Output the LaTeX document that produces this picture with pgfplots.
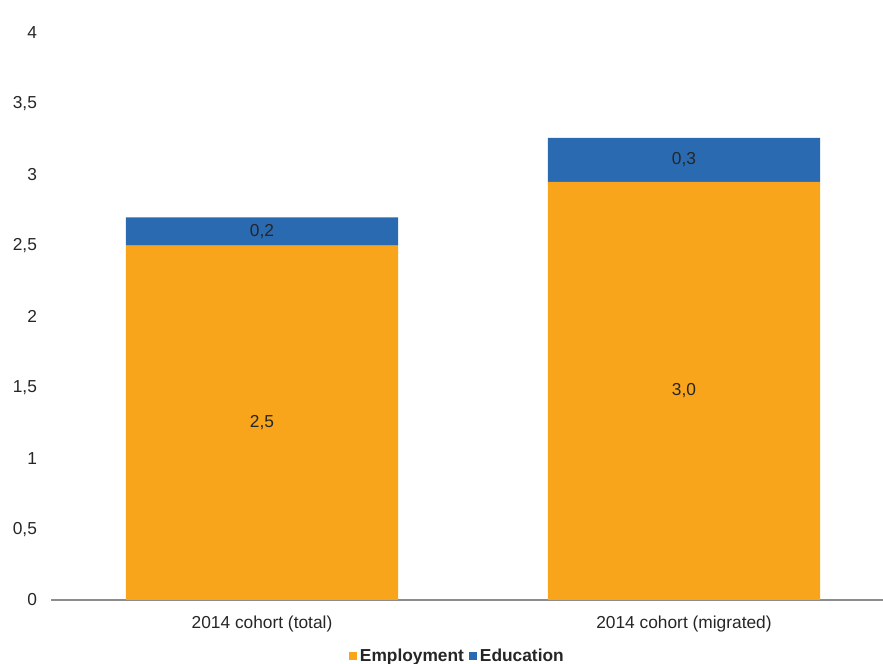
\documentclass[border=0pt]{standalone}
\usepackage{fontspec}
\setmainfont{Liberation Sans}
\usepackage{pgfplots}
\usepackage{pgfplotstable}
\pgfplotsset{compat=1.18}
\definecolor{emp}{HTML}{F9A51B}
\definecolor{edu}{HTML}{2A6AB1}
\definecolor{txt}{HTML}{262626}
\pgfplotstableread{
x emp edu emplab edulab
0 2.5 0.2 2,5 0,2
1 2.95 0.31 3,0 0,3
}\data
\begin{document}
\begin{tikzpicture}
\useasboundingbox (-38.25pt,-48pt) rectangle (624pt,450pt);
\begin{axis}[
  at={(0,0)}, anchor=south west,
  scale only axis,
  width=624pt, height=425.25pt,
  xmin=-0.5, xmax=1.4716,
  ymin=0, ymax=4,
  ybar stacked,
  bar width=0.645,
  axis lines*=left,
  x axis line style={draw=black!45, line width=0.8pt},
  y axis line style={draw=none},
  xtick={0,1},
  xticklabels={2014 cohort (total),2014 cohort (migrated)},
  xtick style={draw=none},
  extra x ticks={-0.5,0.5},
  extra x tick labels={},
  extra x tick style={tick style={draw=black!45, line width=0.8pt}, major tick length=5pt, tick align=outside},
  ytick={0,0.5,...,4},
  ytick style={draw=none},
  yticklabel style={xshift=-7pt, /pgf/number format/fixed, /pgf/number format/use comma, /pgf/number format/assume math mode=true},
  tick label style={font=\fontsize{13}{15}\selectfont, text=txt},
  xticklabel style={yshift=-8.5pt},
  clip=false,
  point meta=explicit symbolic,
  nodes near coords={\pgfplotspointmeta},
  every node near coord/.append style={anchor=center, font=\fontsize{13}{15}\selectfont, text=txt},
  legend style={draw=none, at={(0.489,-0.0985)}, anchor=center, legend columns=-1,
     font=\bfseries\fontsize{13}{15}\selectfont, text=txt,
     /tikz/every even column/.append style={column sep=2pt}},
  legend image code/.code={\fill[#1] (0pt,-3pt) rectangle (6pt,3pt);},
]
\addplot[fill=emp, draw=none] table[x=x, y=emp, meta=emplab] \data;
\addplot[fill=edu, draw=none] table[x=x, y=edu, meta=edulab] \data;
\legend{Employment,Education}
\end{axis}
\end{tikzpicture}
\end{document}
